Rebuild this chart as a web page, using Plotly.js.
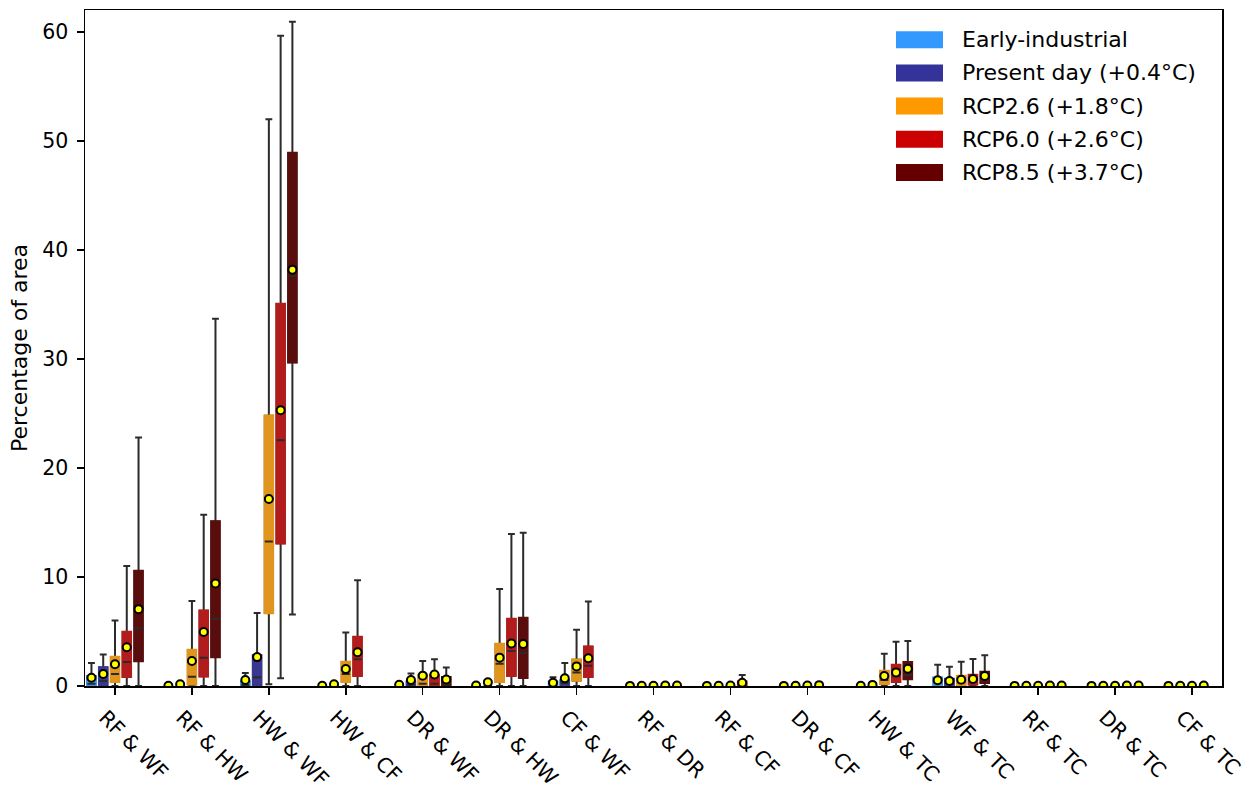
<!DOCTYPE html>
<html><head><meta charset="utf-8">
<script src="https://cdn.plot.ly/plotly-3.0.1.min.js"></script>
<style>html,body{margin:0;padding:0;background:#fff}#chart{width:1245px;height:793px}</style>
</head><body><div id="chart"></div>
<script>
// ---------------- data ----------------
const categories = ['RF & WF','RF & HW','HW & WF','HW & CF','DR & WF','DR & HW','CF & WF',
  'RF & DR','RF & CF','DR & CF','HW & TC','WF & TC','RF & TC','DR & TC','CF & TC'];
const seriesNames = ['Early-industrial','Present day (+0.4°C)','RCP2.6 (+1.8°C)','RCP6.0 (+2.6°C)','RCP8.5 (+3.7°C)'];
const legendColors = ['#3399ff','#333399','#ff9900','#cc0000','#660000'];
const boxColors = ['#3d95ee','#38388f','#e0951f','#b31c1c','#5a0d0d'];
const yTickValues = [0,10,20,30,40,50,60];

// per series (rows) x category (columns)
const lowerWhisker = [
  [0,0,0,0,0,0,0,0,0,0,0,0,0,0,0],
  [0,0,0,0,0,0,0,0,0,0,0,0,0,0,0],
  [0,0,0.15,0,0,0,0,0,0,0,0,0,0,0,0],
  [0,0,0.7,0,0,0,0,0,0,0,0,0,0,0,0],
  [0,0,6.55,null,0,0,null,0,null,null,0,0,0,0,null]
];
const q1 = [
  [0,0,0,0,0,0,0,0,0,0,0,0,0,0,0],
  [0,0,0,0,0,0,0,0,0,0,0,0.1,0,0,0],
  [0.4,0.15,6.7,0.4,0,0.4,0.5,0,0,0,0.2,0.1,0,0,0],
  [0.85,0.9,13.1,0.95,0,0.95,0.85,0,0,0,0.4,0.15,0,0,0],
  [2.3,2.65,29.7,null,0,0.75,null,0,null,null,0.64,0.3,0,0,null]
];
const median = [
  [0.2,0,0.1,0,0,0,0.1,0,0,0,0,0.3,0,0,0],
  [0.45,0,0.8,0,0.1,0,0.25,0,0,0,0,0.3,0,0,0],
  [1.1,0.85,13.25,1.1,0.2,2.05,1.25,0,0,0,0.55,0.35,0,0,0],
  [2.2,2.6,22.55,2.45,0.2,3.2,1.85,0,0.05,0,0.9,0.4,0,0,0],
  [5.3,6.15,37.6,null,0.15,3.05,null,0,null,null,1.0,0.55,0,0,null]
];
const q3 = [
  [0.9,0,0.4,0,0,0,0.4,0,0,0,0,0.75,0,0,0],
  [1.7,0,2.8,0,0.4,0,0.5,0,0,0,0,0.65,0,0,0],
  [2.65,3.3,24.8,2.2,1.0,3.85,2.4,0,0,0,1.38,0.92,0,0,0],
  [4.95,6.9,35.05,4.5,1.0,6.15,3.6,0,0.4,0,1.93,1.0,0,0,0],
  [10.55,15.1,48.9,null,0.8,6.25,null,0,null,null,2.17,1.28,0,0,null]
];
const upperWhisker = [
  [2.1,0,1.2,0,0,0,0.8,0,0,0,0,1.95,0,0,0],
  [2.9,0,6.7,0,1.15,0,2.1,0,0,0,0,1.77,0,0,0],
  [6.0,7.8,52.0,4.9,2.3,8.9,5.15,0,0,0,2.95,2.23,0,0,0],
  [11.0,15.7,59.65,9.7,2.45,13.95,7.75,0,1.0,0.1,4.07,2.48,0,0,0],
  [22.8,33.7,60.95,null,1.7,14.05,null,0,null,null,4.13,2.81,0,0,null]
];
const meanValue = [
  [0.75,0.02,0.55,0.03,0.12,0.05,0.3,0.01,0.01,0.01,0.02,0.52,0.01,0.01,0.01],
  [1.1,0.15,2.65,0.15,0.55,0.35,0.7,0.02,0.02,0.03,0.1,0.46,0.02,0.02,0.02],
  [2.0,2.3,17.15,1.55,0.95,2.6,1.8,0.03,0.05,0.05,0.92,0.58,0.03,0.03,0.03],
  [3.55,4.95,25.3,3.1,1.05,3.9,2.55,0.04,0.3,0.08,1.25,0.64,0.04,0.04,0.04],
  [7.05,9.4,38.2,null,0.6,3.85,null,0.05,null,null,1.59,0.92,0.05,0.05,null]
];

// ---------------- build ----------------
const nS = seriesNames.length;
const step = 0.153;     // spacing between series within a group (axis units)
const boxW = 0.105;     // box width (axis units)
const traces = [];
const meanX = [], meanY = [];
for (let s = 0; s < nS; s++) {
  const idx = categories.map((_, i) => i).filter(i => q1[s][i] !== null);
  const xs = idx.map(i => i + (s - (nS - 1) / 2) * step);
  const pick = arr => idx.map(i => arr[s][i]);
  const common = {type: 'box', x: xs, width: boxW, boxpoints: false, hoverinfo: 'skip', showlegend: false};
  // whiskers + caps
  traces.push(Object.assign({}, common, {
    q1: pick(q1), median: pick(median), q3: pick(q3),
    lowerfence: pick(lowerWhisker), upperfence: pick(upperWhisker),
    whiskerwidth: 0.85, fillcolor: boxColors[s], line: {color: '#2b2b2b', width: 2}
  }));
  // solid box body (no outline)
  traces.push(Object.assign({}, common, {
    q1: pick(q1), median: pick(q1), q3: pick(q3),
    lowerfence: pick(q1), upperfence: pick(q3),
    whiskerwidth: 0, fillcolor: boxColors[s], line: {color: boxColors[s], width: 2.5}
  }));
  // median line
  traces.push(Object.assign({}, common, {
    q1: pick(median), median: pick(median), q3: pick(median),
    lowerfence: pick(median), upperfence: pick(median),
    whiskerwidth: 0, fillcolor: 'rgba(0,0,0,0)', line: {color: '#2b2b2b', width: 2}
  }));
  idx.forEach((i, k) => { meanX.push(xs[k]); meanY.push(meanValue[s][i]); });
}
traces.push({
  type: 'scatter', mode: 'markers', x: meanX, y: meanY, hoverinfo: 'skip', showlegend: false,
  marker: {color: '#ffff00', size: 8, line: {color: '#000000', width: 2}}
});

// manual legend (patches + labels) in paper coordinates
const plotL = 85, plotR = 1222, plotT = 10, plotB = 686;
const px2x = p => (p - plotL) / (plotR - plotL);
const py2y = p => (plotB - p) / (plotB - plotT);
const shapes = [], annotations = [];
seriesNames.forEach((name, s) => {
  const cy = 39.7 + 33.2 * s;
  shapes.push({type: 'rect', xref: 'paper', yref: 'paper',
    x0: px2x(896), x1: px2x(943), y0: py2y(cy + 8.5), y1: py2y(cy - 8.5),
    fillcolor: legendColors[s], line: {width: 0}});
  annotations.push({xref: 'paper', yref: 'paper', x: px2x(960), y: py2y(cy), xanchor: 'left', yanchor: 'middle',
    text: name, showarrow: false, font: {family: 'DejaVu Sans', size: 22, color: '#000'}});
});

const tickFont = {family: 'DejaVu Sans', size: 20.5, color: '#000'};
const titleFont = {family: 'DejaVu Sans', size: 22, color: '#000'};
const layout = {
  width: 1245, height: 793,
  margin: {l: 85, r: 23, t: 10, b: 107},
  paper_bgcolor: '#fff', plot_bgcolor: '#fff',
  boxmode: 'overlay',
  font: tickFont,
  showlegend: false,
  xaxis: {
    type: 'linear', range: [-0.39, 14.39],
    tickmode: 'array', tickvals: categories.map((_, i) => i), ticktext: categories,
    tickangle: 45, ticks: 'outside', ticklen: 7, tickwidth: 1.5, tickcolor: '#000',
    tickfont: tickFont, showgrid: false, zeroline: false,
    showline: true, mirror: true, linecolor: '#000', linewidth: 1.5,
    ticklabelshift: -10, ticklabelstandoff: 3, ticklabeloverflow: 'allow'
  },
  yaxis: {
    range: [0, 62.02], tickmode: 'array', tickvals: yTickValues,
    ticks: 'outside', ticklen: 7, tickwidth: 1.5, tickcolor: '#000',
    tickfont: tickFont, showgrid: false, zeroline: false,
    showline: true, mirror: true, linecolor: '#000', linewidth: 1.5,
    ticklabelstandoff: 4,
    title: {text: 'Percentage of area', font: titleFont, standoff: 8}
  },
  shapes: shapes,
  annotations: annotations
};
Plotly.newPlot('chart', traces, layout, {displayModeBar: false, staticPlot: true});
</script>
</body></html>
